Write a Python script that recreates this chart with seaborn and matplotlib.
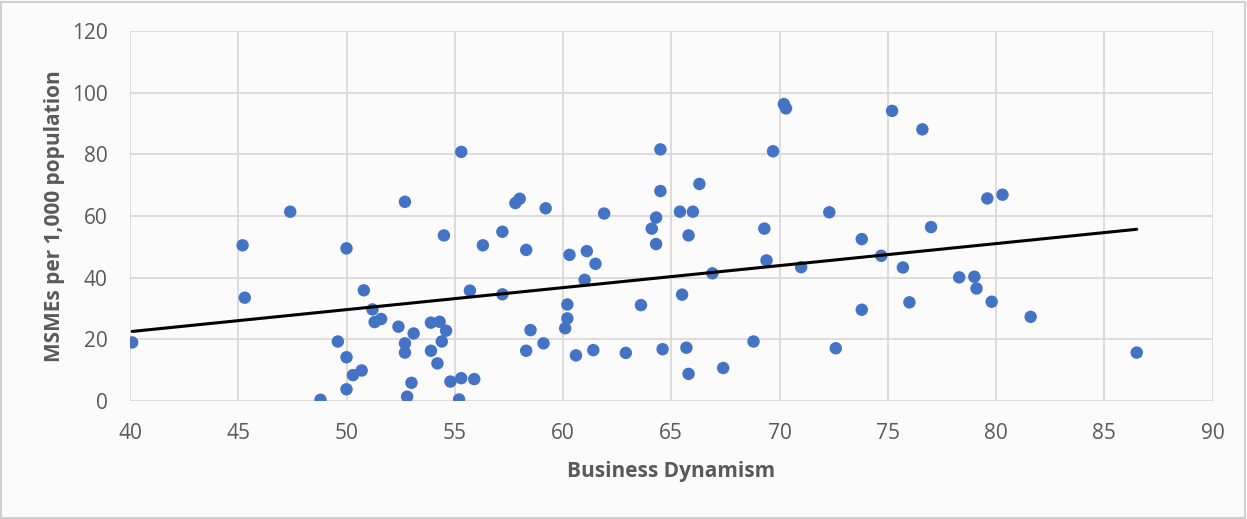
import seaborn as sns
import matplotlib.pyplot as plt
import numpy as np
import pandas as pd
from matplotlib.patches import Rectangle

# values
business_dynamism = [
    40.1, 45.2, 45.3, 47.4, 48.8, 49.6, 50.0, 50.0, 50.0, 50.3,
    50.7, 50.8, 51.2, 51.3, 51.6, 52.4, 52.7, 52.7, 52.7, 52.8,
    53.0, 53.1, 53.9, 53.9, 54.2, 54.3, 54.5, 54.6, 54.4, 54.8,
    55.3, 55.2, 55.3, 55.7, 55.9, 56.3, 57.2, 57.2, 57.8, 58.0,
    58.3, 58.3, 58.5, 59.1, 59.2, 60.3, 60.2, 60.2, 60.1, 60.6,
    61.0, 61.1, 61.4, 61.5, 61.9, 62.9, 63.6, 64.1, 64.3, 64.3,
    64.5, 64.5, 64.6, 65.4, 65.5, 65.7, 65.8, 65.8, 66.0, 66.3,
    66.9, 67.4, 68.8, 69.3, 69.4, 69.7, 70.2, 70.3, 71.0, 72.3,
    72.6, 73.8, 73.8, 74.7, 75.2, 75.7, 76.0, 76.6, 77.0, 78.3,
    79.0, 79.1, 79.6, 79.8, 80.3, 81.6, 86.5,
]
msmes_per_1000 = [
    19.0, 50.5, 33.5, 61.4, 0.4, 19.3, 49.5, 14.2, 3.8, 8.4,
    9.9, 35.9, 29.7, 25.6, 26.6, 24.1, 64.6, 18.7, 15.7, 1.4,
    5.9, 21.9, 16.3, 25.4, 12.2, 25.7, 53.7, 22.8, 19.3, 6.3,
    7.4, 0.5, 80.8, 35.8, 7.1, 50.5, 54.9, 34.6, 64.2, 65.6,
    49.0, 16.3, 23.0, 18.7, 62.5, 47.4, 31.3, 26.8, 23.6, 14.8,
    39.3, 48.6, 16.5, 44.5, 60.8, 15.6, 31.1, 55.9, 59.5, 50.9,
    81.6, 68.1, 16.8, 61.4, 34.5, 17.3, 8.8, 53.7, 61.4, 70.4,
    41.4, 10.7, 19.3, 55.9, 45.6, 81.0, 96.3, 94.9, 43.4, 61.2,
    17.1, 52.5, 29.6, 47.1, 94.1, 43.3, 32.0, 88.1, 56.4, 40.1,
    40.3, 36.5, 65.7, 32.2, 66.9, 27.3, 15.7,
]
# linear trendline as shown on the chart
trend_slope = 0.714
trend_intercept = -6.07
x_ticks = [40, 45, 50, 55, 60, 65, 70, 75, 80, 85, 90]
y_ticks = [0, 20, 40, 60, 80, 100, 120]

df = pd.DataFrame({"Business Dynamism": business_dynamism,
                   "MSMEs per 1,000 population": msmes_per_1000})
trend_x = np.array([min(business_dynamism), max(business_dynamism)])
trend = pd.DataFrame({"x": trend_x, "y": trend_slope * trend_x + trend_intercept})

sns.set_style("white")
plt.rcParams['font.family'] = ['Liberation Sans Narrow', 'Open Sans', 'DejaVu Sans']

fig = plt.figure(figsize=(12.47, 5.19), dpi=100)
fig.patch.set_facecolor("#fbfbfb")
ax = fig.add_axes([130 / 1247, 1 - 401 / 519, 1082.5 / 1247, 370 / 519])
ax.set_facecolor("none")

sns.scatterplot(data=df, x="Business Dynamism", y="MSMEs per 1,000 population",
                s=80, color="#4472C4", edgecolor="none", zorder=3, ax=ax)
sns.lineplot(data=trend, x="x", y="y", color="black", lw=2.2, zorder=4, ax=ax)

ax.set_xlim(40, 90)
ax.set_ylim(0, 120)
ax.set_xticks(x_ticks)
ax.set_yticks(y_ticks)
ax.grid(True, color="#d9d9d9", lw=1.3)
ax.set_axisbelow(True)
for s in ax.spines.values():
    s.set_visible(False)
ax.tick_params(length=0, labelsize=15, labelcolor="#595959")
ax.tick_params(axis="y", pad=16)
ax.tick_params(axis="x", pad=16)
ax.set_xlabel("Business Dynamism", fontsize=15, fontweight="bold", color="#595959", labelpad=12)
ax.set_ylabel("MSMEs per 1,000 population", fontsize=15, fontweight="bold", color="#595959", labelpad=5)

fig.add_artist(Rectangle((0.001, 0.002), 0.997, 0.995, transform=fig.transFigure,
                         fill=False, edgecolor="#d0d0d0", lw=1.5))

fig.savefig("out.png", dpi=100)
